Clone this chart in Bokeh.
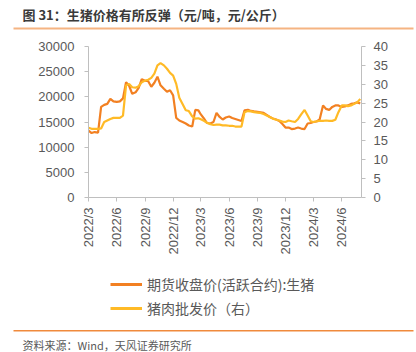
import pandas as pd
from bokeh.plotting import figure
from bokeh.layouts import column
from bokeh.models import (Range1d, LinearAxis, FixedTicker, Label, Legend, LegendItem,
                          BoxAnnotation)
from bokeh.embed import file_html
from bokeh.resources import INLINE

months = ["2022-03", "2022-04", "2022-05", "2022-06", "2022-07", "2022-08", "2022-09",
          "2022-10", "2022-11", "2022-12", "2023-01", "2023-02", "2023-03", "2023-04",
          "2023-05", "2023-06", "2023-07", "2023-08", "2023-09", "2023-10", "2023-11",
          "2023-12", "2024-01", "2024-02", "2024-03", "2024-04", "2024-05", "2024-06",
          "2024-07"]
days = ["01", "11", "21"]
dates = [f"{m}-{d}" for m in months for d in days] + ["2024-07-31"]

futures = [13300, 12800, 13000, 12900, 18000, 18400, 18600, 19600, 19100,
           19000, 19100, 19700, 22900, 22200, 20600, 20900, 21800, 23500,
           23200, 23100, 22000, 22800, 24000, 22300, 21600, 21000, 21300,
           20300, 15800, 15300, 15000, 14700, 14300, 14100, 17400, 17300,
           16500, 15700, 14800, 14700, 15000, 16800, 16000, 15500, 15900,
           16100, 15800, 15600, 15400, 15200, 17300, 17400, 17200, 17100,
           17000, 16900, 16800, 16400, 16000, 15700, 15500, 15200, 14600,
           13900, 13900, 13600, 13700, 13900, 13700, 13600, 14700, 14800,
           15000, 15100, 15500, 18300, 17600, 17400, 18000, 18300, 18300,
           18000, 18100, 18300, 18600, 18700, 18900, 18700]

wholesale = [18.5, 18.2, 18.2, 18.2, 18.3, 20.0, 20.4, 20.8, 21.1,
             21.1, 21.1, 21.7, 29.7, 30.1, 29.2, 29.1, 29.5, 30.5,
             31.0, 31.2, 31.7, 32.8, 35.0, 35.6, 35.0, 34.1, 33.0,
             32.3, 30.1, 26.4, 24.7, 23.1, 22.9, 21.5, 20.9, 21.0,
             20.7, 20.3, 19.8, 19.4, 19.2, 19.3, 19.3, 19.1, 19.1,
             19.0, 19.0, 18.8, 18.8, 18.8, 22.6, 22.9, 22.8, 22.6,
             22.5, 22.4, 22.1, 21.7, 21.3, 20.9, 20.6, 20.4, 20.1,
             20.0, 20.4, 20.2, 20.0, 20.8, 22.0, 23.2, 21.7, 20.2,
             20.0, 20.2, 20.3, 20.3, 20.4, 20.3, 20.3, 20.6, 22.6,
             24.4, 24.4, 24.2, 24.4, 24.8, 25.2, 26.1]

tick_dates = ["2022-03-01", "2022-06-01", "2022-09-01", "2022-12-01", "2023-03-01",
              "2023-06-01", "2023-09-01", "2023-12-01", "2024-03-01", "2024-06-01"]
tick_labels = ["2022/3", "2022/6", "2022/9", "2022/12", "2023/3",
               "2023/6", "2023/9", "2023/12", "2024/3", "2024/6"]

title_text = "图 31：生猪价格有所反弹（元/吨，元/公斤）"
legend_labels = ["期货收盘价(活跃合约):生猪", "猪肉批发价（右）"]
source_text = "资料来源：Wind，天风证券研究所"

C_FUT = "#F28022"
C_WHO = "#FFBA26"
GRAY = "#595959"
AXIS = "#BFBFBF"
CJK = "Noto Sans CJK SC"
LAT = "Liberation Sans"
W = 416


def ms(s):
    return pd.Timestamp(s).value / 1e6


def blank(h):
    f = figure(width=W, height=h, output_backend="svg", toolbar_location=None,
               x_range=Range1d(0, W), y_range=Range1d(h, 0),
               x_axis_location=None, y_axis_location=None,
               min_border=0, min_border_left=0, min_border_right=0,
               min_border_top=0, min_border_bottom=0, frame_align=False)
    f.grid.visible = False
    f.outline_line_color = None
    f.background_fill_color = "white"
    f.border_fill_color = "white"
    return f


# ---------- header ----------
HH = 34
head = blank(HH)
head.add_layout(Label(x=22, y=14, text=title_text, text_font=CJK, text_font_size="13px",
                      text_font_style="bold", text_color="#3a3a3a",
                      text_baseline="middle", text_align="left"))
head.add_layout(BoxAnnotation(left=13, right=413, top=27, bottom=29,
                              fill_color="#F5B482", fill_alpha=1, line_color=None))

# ---------- main chart ----------
MH = 228
x = pd.to_datetime(dates)
p = figure(width=W, height=MH, output_backend="svg", toolbar_location=None,
           x_axis_type="datetime",
           x_range=Range1d(ms("2022-03-01"), ms("2024-08-04")),
           y_range=Range1d(0, 30000),
           min_border_left=88, min_border_right=55, min_border_top=46 - HH,
           min_border_bottom=MH - (197 - HH), frame_align=False)
p.extra_y_ranges = {"right": Range1d(0, 40)}
p.outline_line_color = None
p.grid.visible = False
p.background_fill_color = "white"
p.border_fill_color = "white"

r1 = p.line(x, futures, line_color=C_FUT, line_width=2.2)
r2 = p.line(x, wholesale, line_color=C_WHO, line_width=2.2, y_range_name="right")


def style(ax):
    ax.axis_line_color = AXIS
    ax.major_tick_line_color = AXIS
    ax.minor_tick_line_color = None
    ax.major_tick_in = 0
    ax.major_tick_out = 4
    ax.major_label_text_color = GRAY
    ax.major_label_text_font = LAT
    ax.major_label_text_font_size = "13px"


yl = p.yaxis[0]
yl.ticker = FixedTicker(ticks=[0, 5000, 10000, 15000, 20000, 25000, 30000])
style(yl)
yl.major_label_standoff = 10

yr = LinearAxis(y_range_name="right", ticker=FixedTicker(ticks=[0, 5, 10, 15, 20, 25, 30, 35, 40]))
style(yr)
yr.major_label_standoff = 8
p.add_layout(yr, "right")

xa = p.xaxis[0]
tvals = [ms(d) for d in tick_dates]
xa.ticker = FixedTicker(ticks=tvals)
xa.major_label_overrides = {v: l for v, l in zip(tvals, tick_labels)}
xa.major_label_orientation = 1.5708
style(xa)
xa.major_label_standoff = 6

# ---------- footer: legend + source ----------
FY = HH + MH
FH = 352 - FY
foot = blank(FH)
d1 = foot.line([-50, -40], [-50, -50], line_color=C_FUT, line_width=3)
d2 = foot.line([-50, -40], [-50, -50], line_color=C_WHO, line_width=3)
legend = Legend(items=[LegendItem(label=legend_labels[0], renderers=[d1]),
                       LegendItem(label=legend_labels[1], renderers=[d2])],
                location=(110, FH - (318 - FY)), orientation="vertical",
                glyph_width=32, glyph_height=20, label_height=20, spacing=4,
                label_standoff=5, padding=0, margin=0,
                border_line_color=None, background_fill_alpha=0,
                label_text_font=CJK, label_text_font_size="14px",
                label_text_color=GRAY)
foot.add_layout(legend, "center")
foot.add_layout(BoxAnnotation(left=13, right=413, top=329.5 - FY, bottom=331 - FY,
                              fill_color="#F08A3C", fill_alpha=1, line_color=None))
foot.add_layout(Label(x=22, y=344 - FY, text=source_text, text_font=CJK,
                      text_font_size="11px", text_color=GRAY,
                      text_baseline="middle", text_align="left"))

layout = column(head, p, foot, spacing=0)
open("out.html", "w").write(file_html(layout, INLINE))
